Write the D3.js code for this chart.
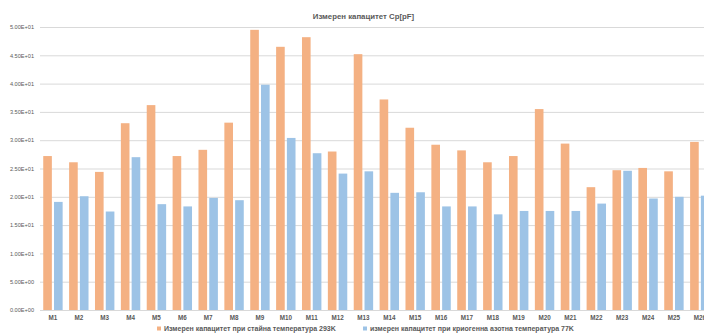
<!DOCTYPE html>
<html>
<head>
<meta charset="utf-8">
<script src="https://cdn.jsdelivr.net/npm/d3@7"></script>
<style>
  html, body { margin: 0; padding: 0; background: #fff; }
  svg { display: block; }
</style>
</head>
<body>
<svg id="chart" width="704" height="333"></svg>
<script>
// Measured capacitance Cp [pF] per sample, at room and at liquid-nitrogen temperature
const categories = ["M1","M2","M3","M4","M5","M6","M7","M8","M9","M10","M11","M12","M13",
                    "M14","M15","M16","M17","M18","M19","M20","M21","M22","M23","M24","M25","M26"];
const room293K = [27.2, 26.1, 24.4, 33.0, 36.2, 27.2, 28.3, 33.1, 49.5, 46.5, 48.2, 28.0, 45.2,
                  37.2, 32.2, 29.2, 28.2, 26.1, 27.2, 35.5, 29.4, 21.7, 24.7, 25.1, 24.5, 29.7];
const cryo77K  = [19.1, 20.1, 17.4, 27.0, 18.7, 18.3, 19.8, 19.4, 39.8, 30.4, 27.7, 24.1, 24.5,
                  20.7, 20.8, 18.3, 18.3, 16.9, 17.5, 17.5, 17.5, 18.8, 24.6, 19.7, 20.0, 20.2];
const yTicks = [0, 5, 10, 15, 20, 25, 30, 35, 40, 45, 50];
const seriesNames = ["Измерен капацитет при стайна температура 293K",
                     "измерен капацитет при криогенна азотна температура 77K"];
const seriesColors = ["#F4B183", "#9DC3E6"];
const chartTitle = "Измерен капацитет Cp[pF]";

const svg = d3.select("#chart");
const W = 704, H = 333;
const plot = { left: 40, right: 712.75, top: 27, bottom: 310 };
const font = "'Liberation Sans', Arial, sans-serif";

const x0 = d3.scaleBand().domain(categories).range([plot.left, plot.right]).paddingInner(0.25).paddingOuter(0.125);
const x1 = d3.scaleBand().domain([0, 1]).range([0, x0.bandwidth()]).paddingInner(0.2);
const y = d3.scaleLinear().domain([0, 50]).range([plot.bottom, plot.top]);

const fmt = v => {
  const e = v === 0 ? 0 : Math.floor(Math.log10(v));
  const m = v === 0 ? 0 : v / Math.pow(10, e);
  return m.toFixed(2) + "E" + (e >= 0 ? "+" : "-") + String(Math.abs(e)).padStart(2, "0");
};

// horizontal gridlines and tick labels
const yAxis = d3.axisLeft(y).tickValues(yTicks).tickSize(-(W - plot.left)).tickFormat(fmt).tickPadding(5);
const gy = svg.append("g").attr("transform", `translate(${plot.left},0)`).call(yAxis);
gy.select(".domain").remove();
gy.selectAll(".tick line").attr("stroke", "#d9d9d9").attr("stroke-width", 1);
gy.selectAll(".tick text").attr("fill", "#595959").style("font-family", font)
  .style("font-size", "5.6px").attr("x", -6);

// bars
const groups = svg.append("g").selectAll("g").data(categories).join("g")
  .attr("transform", d => `translate(${x0(d)},0)`);
groups.selectAll("rect")
  .data((d, i) => [room293K[i], cryo77K[i]])
  .join("rect")
  .attr("x", (d, j) => x1(j))
  .attr("width", x1.bandwidth())
  .attr("y", d => y(d))
  .attr("height", d => y(0) - y(d))
  .attr("fill", (d, j) => seriesColors[j]);

// category axis
const xAxis = d3.axisBottom(x0).tickSize(0).tickPadding(6);
const gx = svg.append("g").attr("transform", `translate(0,${plot.bottom})`).call(xAxis);
gx.select(".domain").attr("stroke", "#d9d9d9");
gx.selectAll(".tick text").attr("fill", "#595959").style("font-family", font)
  .style("font-size", "6.3px").style("font-weight", "bold");

// title
svg.append("text").attr("x", 363.5).attr("y", 18.5).attr("text-anchor", "middle")
  .attr("fill", "#595959").style("font-family", font).style("font-size", "7.8px")
  .style("font-weight", "bold").text(chartTitle);

// legend
const legendX = [157, 363];
const leg = svg.append("g").selectAll("g").data(seriesNames).join("g")
  .attr("transform", (d, i) => `translate(${legendX[i]},331)`);
leg.append("rect").attr("x", 0).attr("y", -4.5).attr("width", 4).attr("height", 4)
  .attr("fill", (d, i) => seriesColors[i]);
leg.append("text").attr("x", 7).attr("y", 0).attr("fill", "#595959")
  .style("font-family", font).style("font-size", "7px").style("font-weight", "bold").text(d => d);
</script>
</body>
</html>
